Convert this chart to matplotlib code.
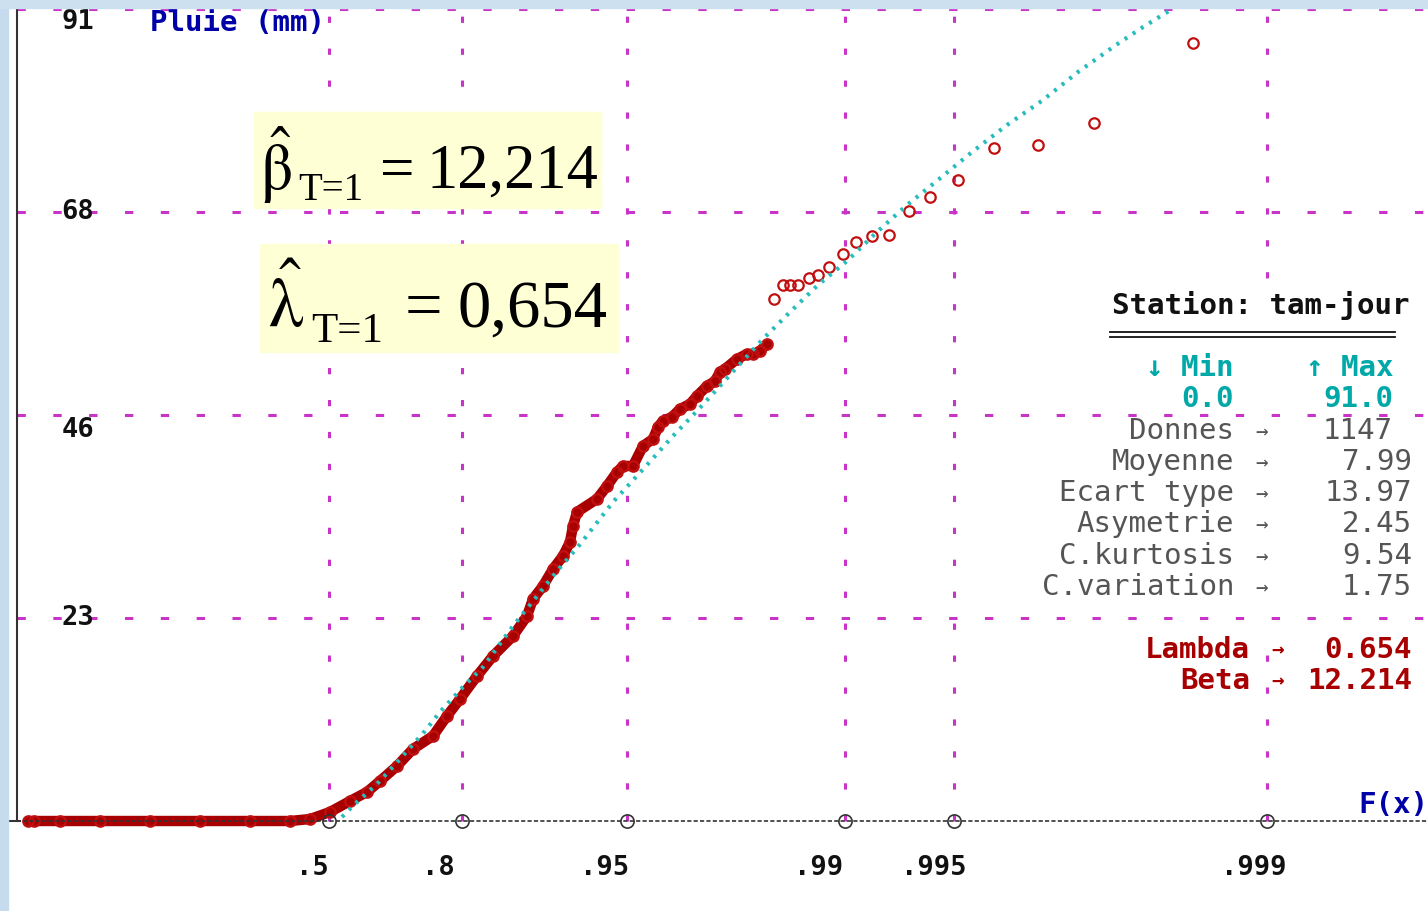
import matplotlib
matplotlib.use('Agg')
import matplotlib.pyplot as plt
from matplotlib.patches import Rectangle

plt.rcParams['lines.scale_dashes'] = False
plt.rcParams['mathtext.fontset'] = 'stix'

# ---- data (x in plotting-position units of the probability axis, y in mm) ----
obs_x = [0.28, 0.34, 0.60, 1.00, 1.50, 2.00, 2.50, 2.90, 3.10, 3.30, 3.50, 3.67,
         3.80, 3.97, 4.13, 4.33, 4.47, 4.60, 4.77, 4.93, 5.13, 5.27, 5.33, 5.43,
         5.53, 5.63, 5.70, 5.73, 5.77, 5.97, 6.07, 6.17, 6.23, 6.33, 6.43, 6.53,
         6.58, 6.63, 6.72, 6.80, 6.90, 6.97, 7.07, 7.15, 7.20, 7.25, 7.37, 7.47,
         7.53, 7.60, 7.67,
         7.74, 7.83, 7.90, 7.98, 8.09, 8.18, 8.29, 8.43, 8.56, 8.72, 8.89, 9.09,
         9.30, 9.58, 9.94, 10.38, 10.94, 11.93]
obs_y = [0.0, 0.0, 0.0, 0.0, 0.0, 0.0, 0.0, 0.0, 0.22, 1.01, 2.24, 3.25,
         4.48, 6.16, 8.07, 9.53, 11.77, 13.67, 16.25, 18.49, 20.73, 22.97, 24.88, 26.34,
         28.24, 29.70, 31.27, 33.06, 34.63, 36.09, 37.54, 39.11, 39.79, 39.79, 42.03, 42.81,
         44.16, 44.83, 45.28, 46.17, 46.73, 47.63, 48.75, 49.31, 50.32, 50.66, 51.78, 52.34,
         52.34, 52.67, 53.46,
         58.50, 60.07, 60.07, 60.07, 60.85, 61.19, 62.09, 63.54, 64.89, 65.56, 65.67, 68.36,
         69.93, 71.84, 75.42, 75.76, 78.22, 87.19]
n_dense = 51

fit_x = [3.42, 3.55, 3.77, 4.00, 4.25, 4.40, 4.63, 4.83, 5.13, 5.57, 5.80, 6.13,
         6.47, 6.72, 6.97, 7.20, 7.38, 7.63, 7.90, 8.18, 8.47, 8.77, 9.07, 9.38,
         9.72, 10.07, 10.43, 10.78, 11.16, 11.43, 11.69]
fit_y = [0.45, 1.91, 4.15, 6.95, 10.09, 12.22, 15.02, 17.26, 21.85, 28.0, 31.0, 35.75,
         39.90, 43.03, 45.95, 48.75, 50.99, 54.02, 57.04, 60.07, 62.76, 66.01, 69.03, 71.84,
         74.97, 78.00, 80.80, 83.94, 86.97, 88.98, 90.78]

xtick_pos = [3.29, 4.62, 6.27, 8.45, 9.54, 12.67]
xtick_lab = ['.5', '.8', '.95', '.99', '.995', '.999']
grid_y = [22.75, 45.5, 68.25, 91.0]
ytick_lab = ['23', '46', '68', '91']

stat_names = ['Donnes', 'Moyenne', 'Ecart type', 'Asymetrie', 'C.kurtosis', 'C.variation']
stat_vals = ['1147', '7.99', '13.97', '2.45', '9.54', '1.75']
min_val, max_val = '0.0', '91.0'
lam, beta = 0.654, 12.214
station = 'tam-jour'

# ---- colours ----
RED = '#A80000'
MAG = '#C833C8'
CYAN = '#28BCBC'
BLUE = '#0000A8'
GRAY = '#555555'
TEAL = '#00A8A8'

W, H = 1428, 912
Y0 = 822
PXMM = 812 / 91


def px(x, y):
    return x / 100, (Y0 - y) / PXMM


fig = plt.figure(figsize=(W / 100, H / 100), dpi=100)
ax = fig.add_axes([0, 0, 1, 1])
ax.set_xlim(0, W / 100)
ax.set_ylim((Y0 - H) / PXMM, Y0 / PXMM)
ax.axis('off')

# window border strips
ax.add_patch(Rectangle((0, 0), 8 / W, 1, transform=ax.transAxes, color='#C6DCEE', zorder=10))
ax.add_patch(Rectangle((0, 1 - 9 / H), 1, 9 / H, transform=ax.transAxes, color='#CCE0F0', zorder=10))

# grid
for xv in xtick_pos:
    ax.plot([xv, xv], [0, 92], color=MAG, lw=2.2, ls=(0, (4.5, 18.5)), zorder=1)
for yv in grid_y:
    ax.plot([0.17, W / 100], [yv, yv], color=MAG, lw=2.2, ls=(0, (6, 19.8)), zorder=3)

# mask behind the stats panel
mx0, my0 = px(1030, 640)
mx1, my1 = px(1428, 292)
ax.add_patch(Rectangle((mx0, my0), mx1 - mx0, my1 - my0, color='white', zorder=2))

# y axis line
ax.plot([0.17, 0.17], [0, 92], color='#333333', lw=1.5, zorder=6)
ax.plot([0.10, 0.20], [0, 0], color='#333333', lw=1.5, zorder=6)

# observed data
ax.plot(obs_x[:n_dense], obs_y[:n_dense], color=RED, lw=7.5, solid_capstyle='round', zorder=5)
ax.plot(obs_x, obs_y, ls='none', marker='o', ms=7.5, mfc='none', mec='#C01010', mew=1.6, zorder=5)

# fitted law
ax.plot(fit_x, fit_y, color=CYAN, lw=3, ls=(0, (2.2, 4.8)), zorder=5)

# baseline
ax.plot([0.10, W / 100], [0, 0], color='#333333', lw=1.2, ls=(0, (3, 1.6)), zorder=6)
ax.plot(xtick_pos, [0] * len(xtick_pos), ls='none', marker='o', ms=9.5, mfc='none',
        mec='#333333', mew=1.2, zorder=7)

mono = dict(family=['DejaVu Sans Mono'], fontweight='bold')

# tick labels
lab_cx = [312, 438, 605, 819, 934, 1254]
for cx, t in zip(lab_cx, xtick_lab):
    ax.text(*px(cx, 868), t, ha='center', va='center', fontsize=19.5, color='#111111', **mono)
lab_cy = [22, 430, 212, 618]
for cy, t in zip(lab_cy, ['91', '46', '68', '23']):
    ax.text(*px(78, cy), t, ha='center', va='center', fontsize=19.5, color='#111111', zorder=8, **mono)

ax.text(*px(150, 23), 'Pluie (mm)', ha='left', va='center', fontsize=21, color=BLUE, zorder=8, **mono)
ax.text(*px(1358, 805), 'F(x)', ha='left', va='center', fontsize=21, color=BLUE, zorder=8, **mono)

# stats panel
ax.text(*px(1410, 306), 'Station: ' + station, ha='right', va='center', fontsize=21,
        color='#111111', zorder=8, **mono)
for yy in (333, 338):
    ax.plot([11.10, 13.95], [px(0, yy)[1]] * 2, color='#111111', lw=1.3, zorder=8)
ax.text(*px(1234, 368), '↓ Min', ha='right', va='center', fontsize=21, color=TEAL, zorder=8, **mono)
ax.text(*px(1393, 368), '↑ Max', ha='right', va='center', fontsize=21, color=TEAL, zorder=8, **mono)
ax.text(*px(1234, 399), min_val, ha='right', va='center', fontsize=21, color=TEAL, zorder=8, **mono)
ax.text(*px(1393, 399), max_val, ha='right', va='center', fontsize=21, color=TEAL, zorder=8, **mono)

row_y = [431, 462, 493, 524, 556, 587]
for i, (nm, v, ry) in enumerate(zip(stat_names, stat_vals, row_y)):
    ax.text(*px(1234, ry), nm, ha='right', va='center', fontsize=21, color=GRAY,
            family=['DejaVu Sans Mono'], zorder=8)
    ax.text(*px(1262, ry), '→', ha='center', va='center', fontsize=15, color=GRAY,
            family=['DejaVu Sans Mono'], zorder=8)
    vx = 1393 if i == 0 else 1412
    ax.text(*px(vx, ry), v, ha='right', va='center', fontsize=21, color=GRAY,
            family=['DejaVu Sans Mono'], zorder=8)

for nm, v, ry in [('Lambda', f'{lam:.3f}', 650), ('Beta', f'{beta:.3f}', 681)]:
    ax.text(*px(1250, ry), nm, ha='right', va='center', fontsize=21, color=RED, zorder=8, **mono)
    ax.text(*px(1278, ry), '→', ha='center', va='center', fontsize=15, color=RED, zorder=8, **mono)
    ax.text(*px(1412, ry), v, ha='right', va='center', fontsize=21, color=RED, zorder=8, **mono)

# yellow annotation boxes
for (x0, y0, x1, y1) in [(254, 113, 601, 209), (260, 245, 618, 353)]:
    bx0, by0 = px(x0, y1)
    bx1, by1 = px(x1, y0)
    ax.add_patch(Rectangle((bx0, by0), bx1 - bx0, by1 - by0, color='#FFFFD6', zorder=8))

serif = ['Liberation Serif', 'DejaVu Serif']
# beta estimate
ax.text(*px(260, 190), r'$\hat{\mathrm{\beta}}$', ha='left', va='baseline', fontsize=46, zorder=9)
ax.text(*px(298, 200), 'T=1', ha='left', va='baseline', fontsize=28, family=serif, zorder=9)
ax.text(*px(380, 188), '=', ha='left', va='baseline', fontsize=44, family=serif, zorder=9)
ax.text(*px(426, 188), f'{beta:.3f}'.replace('.', ','), ha='left', va='baseline',
        fontsize=45, family=serif, zorder=9)
# lambda estimate
ax.text(*px(268, 327), r'$\hat{\mathrm{\lambda}}$', ha='left', va='baseline', fontsize=50, zorder=9)
ax.text(*px(311, 342), 'T=1', ha='left', va='baseline', fontsize=31, family=serif, zorder=9)
ax.text(*px(405, 327), '=', ha='left', va='baseline', fontsize=48, family=serif, zorder=9)
ax.text(*px(458, 327), f'{lam:.3f}'.replace('.', ','), ha='left', va='baseline',
        fontsize=48, family=serif, zorder=9)

fig.savefig('out.png', dpi=100, facecolor='white')
